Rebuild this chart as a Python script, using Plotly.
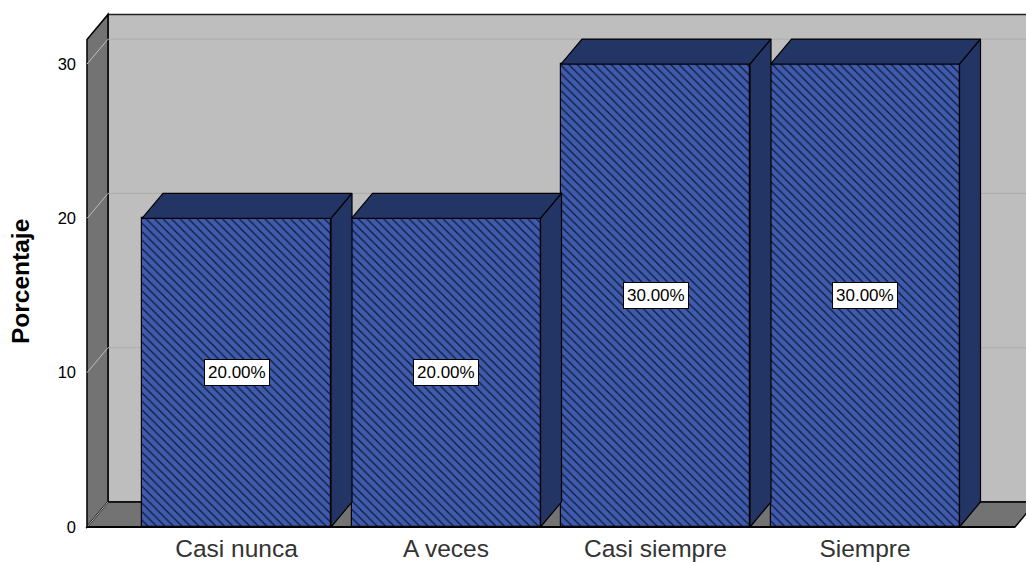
import plotly.graph_objects as go

categories = ["Casi nunca", "A veces", "Casi siempre", "Siempre"]
values = [20, 20, 30, 30]
labels = ["20.00%", "20.00%", "30.00%", "30.00%"]
y_ticks = [0, 10, 20, 30]
y_title = "Porcentaje"

PXX = 209.5
PXY = 15.43
BAR_W = 189 / PXX
DX = 21 / PXX
DY = 25 / PXY
WALL_TOP = 31.6
X0 = -(236.5 - 87) / PXX
X_END = (1015 - 236.5) / PXX
LEFT_PAD = 7 / PXX
BOTTOM_PAD = 3 / PXY
W, H = 1026, 562
ML, MB = 80, 32

FRONT = "#3F5BAE"
DARK = "#233564"
WALL = "#BEBEBE"
SIDE = "#737373"
positions = list(range(len(categories)))
x_range = [X0 - LEFT_PAD, X0 - LEFT_PAD + (W - ML) / PXX]
y_range = [-BOTTOM_PAD, -BOTTOM_PAD + (H - MB) / PXY]


def poly(pts):
    return "M " + " L ".join(f"{a},{b}" for a, b in pts) + " Z"


shapes = []
def add(pts, fill, line="#000000", width=1.5):
    shapes.append(dict(type="path", path=poly(pts), xref="x", yref="y", fillcolor=fill,
                       line=dict(color=line, width=width), layer="below"))

# back wall, left wall, floor
add([(X0 + DX, DY), (x_range[1] + 1, DY), (x_range[1] + 1, WALL_TOP + DY), (X0 + DX, WALL_TOP + DY)], WALL, line="#222222")
add([(X0, 0), (X0 + DX, DY), (X0 + DX, WALL_TOP + DY), (X0, WALL_TOP)], SIDE)
add([(X0, 0), (X0 + DX, DY), (X_END + DX, DY), (X_END, 0)], SIDE)
for v in y_ticks[1:]:
    shapes.append(dict(type="line", xref="x", yref="y", x0=X0 + DX, x1=x_range[1], y0=v + DY, y1=v + DY,
                       line=dict(color="#ADADAD", width=1), layer="below"))
for v in y_ticks:
    shapes.append(dict(type="line", xref="x", yref="y", x0=X0, x1=X0 + DX, y0=v, y1=v + DY,
                       line=dict(color="#BEBEBE", width=1), layer="below"))
shapes.append(dict(type="line", xref="x", yref="y", x0=X0, x1=X_END, y0=0, y1=0,
                   line=dict(color="#000000", width=2), layer="below"))

fig = go.Figure()
fig.add_trace(go.Bar(
    x=positions, y=values, width=BAR_W,
    marker=dict(color=FRONT, line=dict(color="#000000", width=1.2),
                pattern=dict(shape="\\", bgcolor=FRONT, fgcolor="#101830", size=6, solidity=0.2, fillmode="replace")),
    hoverinfo="skip", showlegend=False,
))

for p, v in zip(positions, values):
    l, r = p - BAR_W / 2, p + BAR_W / 2
    top = [(l, v), (l + DX, v + DY), (r + DX, v + DY), (r, v), (l, v)]
    side = [(r, 0), (r + DX, DY), (r + DX, v + DY), (r, v), (r, 0)]
    for pts in (top, side):
        fig.add_trace(go.Scatter(x=[a for a, _ in pts], y=[b for _, b in pts], mode="lines",
                                 fill="toself", fillcolor=DARK, line=dict(color="#000000", width=1.2),
                                 hoverinfo="skip", showlegend=False))

annotations = [dict(x=p, y=v / 2, xref="x", yref="y", text=t, showarrow=False,
                    bgcolor="#FFFFFF", bordercolor="#000000", borderwidth=1, borderpad=3,
                    font=dict(family="Liberation Sans", size=17, color="#000000"))
               for p, v, t in zip(positions, values, labels)]
annotations.append(dict(xref="paper", yref="y", x=0, xshift=21 - ML, xanchor="center", yanchor="middle",
                        y=15.88, text=f"<b>{y_title}</b>", textangle=-90, showarrow=False,
                        font=dict(family="Liberation Sans", size=24.5, color="#000000")))

fig.update_layout(
    width=W, height=H, autosize=False,
    margin=dict(l=ML, r=0, t=0, b=MB, pad=0),
    paper_bgcolor="#FFFFFF", plot_bgcolor="#FFFFFF",
    shapes=shapes, annotations=annotations, bargap=0,
    xaxis=dict(range=x_range, tickmode="array", tickvals=positions, ticktext=categories, automargin=False,
               showgrid=False, zeroline=False, showline=False, ticks="", ticklabelstandoff=1,
               tickfont=dict(family="Liberation Sans", size=24.5, color="#333333")),
    yaxis=dict(range=y_range, tickmode="array", tickvals=y_ticks, showgrid=False, zeroline=False, automargin=False,
               showline=False, ticks="", ticklabelstandoff=3,
               tickfont=dict(family="Liberation Sans", size=16.5, color="#000000")),
)
fig.write_html("out.html", config=dict(displayModeBar=False),
               post_script="document.body.style.margin='0';document.documentElement.style.overflow='hidden';")
